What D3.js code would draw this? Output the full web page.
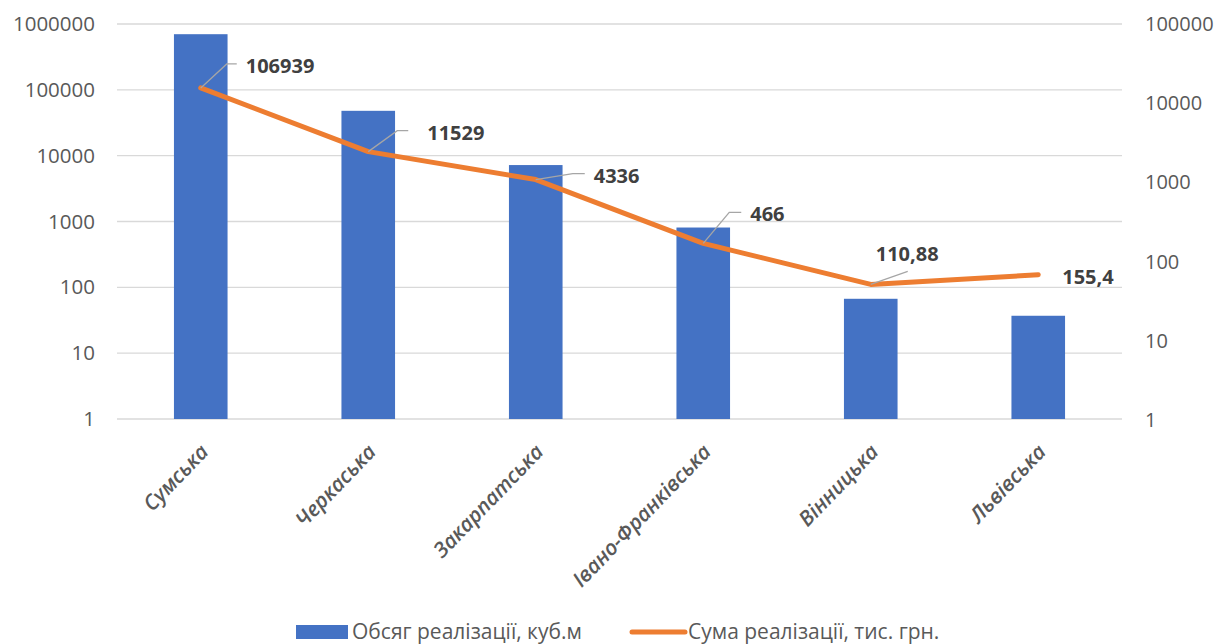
<!DOCTYPE html>
<html>
<head>
<meta charset="utf-8">
<script src="https://cdn.jsdelivr.net/npm/d3@7"></script>
<style>
  body { margin: 0; background: #fff; }
  text { font-family: "Open Sans", sans-serif; }
</style>
</head>
<body>
<div id="canvas"></div>
<script>
// data
const regions = ["Сумська", "Черкаська", "Закарпатська", "Івано-Франківська", "Вінницька", "Львівська"];
const volume = [700000, 48000, 7200, 810, 67, 37];          // Обсяг реалізації, куб.м
const amount = [106939, 11529, 4336, 466, 110.88, 155.4];   // Сума реалізації, тис. грн.
const amountLabels = ["106939", "11529", "4336", "466", "110,88", "155,4"];
const leftTicks = [1, 10, 100, 1000, 10000, 100000, 1000000];
const rightTicks = [1, 10, 100, 1000, 10000, 100000];
const seriesNames = ["Обсяг реалізації, куб.м", "Сума реалізації, тис. грн."];

// label placement (leader elbow dx/dy from point, text dx/dy)
const labelLayout = [
  { lx: 26, ly: -24, hx: 36, tx: 45, ty: -22 },
  { lx: 29, ly: -21, hx: 40, tx: 59, ty: -19 },
  { lx: 37, ly: -6, hx: 49, tx: 58, ty: -4 },
  { lx: 26, ly: -31, hx: 38, tx: 47, ty: -29 },
  { lx: 37, ly: -13, hx: 37, tx: 5, ty: -30 },
  { lx: 0, ly: 0, hx: 0, tx: 24, ty: 2 }
];

const width = 1219;
const height = 644;
const margin = { top: 24, left: 117, bottom: 225, right: 97 };
const iwidth = width - margin.left - margin.right;
const iheight = height - margin.top - margin.bottom;

const svg = d3.select("#canvas").append("svg")
  .attr("width", width)
  .attr("height", height);

const g = svg.append("g")
  .attr("transform", `translate(${margin.left},${margin.top})`);

const x = d3.scaleBand()
  .domain(regions)
  .range([0, iwidth])
  .padding(0);

const y = d3.scaleLog()
  .domain([1, 1000000])
  .range([iheight, 0]);

const y2 = d3.scaleLog()
  .domain([1, 100000])
  .range([iheight + 1, 0]);

// gridlines
g.append("g")
  .selectAll("line")
  .data(leftTicks)
  .enter()
  .append("line")
  .attr("x1", 0)
  .attr("x2", iwidth)
  .attr("y1", d => y(d))
  .attr("y2", d => y(d))
  .style("stroke", "#d9d9d9")
  .style("stroke-width", 1.3);

// left axis
const yAxis = g.append("g")
  .call(d3.axisLeft(y).tickValues(leftTicks).tickFormat(d3.format("d")).tickSize(0).tickPadding(22));
yAxis.select(".domain").remove();
yAxis.selectAll("text")
  .style("font-size", "20.5px")
  .style("fill", "#595959");

// right axis
const y2Axis = g.append("g")
  .attr("transform", `translate(${iwidth},0)`)
  .call(d3.axisRight(y2).tickValues(rightTicks).tickFormat(d3.format("d")).tickSize(0).tickPadding(23));
y2Axis.select(".domain").remove();
y2Axis.selectAll("text")
  .style("font-size", "20px")
  .style("fill", "#595959");

// bars
const barW = x.bandwidth() * 0.32;
g.selectAll("rect.bar")
  .data(regions)
  .enter()
  .append("rect")
  .attr("class", "bar")
  .style("fill", "#4472c4")
  .attr("x", d => x(d) + x.bandwidth() / 2 - barW / 2)
  .attr("y", (d, i) => y(volume[i]))
  .attr("width", barW)
  .attr("height", (d, i) => iheight - y(volume[i]));

// category labels
g.append("g")
  .selectAll("text")
  .data(regions)
  .enter()
  .append("text")
  .attr("transform", d => `translate(${x(d) + x.bandwidth() / 2 + 9},${iheight + 34}) rotate(-46)`)
  .attr("text-anchor", "end")
  .style("font-size", "21px")
  .style("font-style", "italic")
  .style("font-weight", 600)
  .style("fill", "#595959")
  .text(d => d);

// line
const pts = regions.map((d, i) => [x(d) + x.bandwidth() / 2, y(amount[i])]);
g.append("path")
  .datum(pts)
  .attr("d", d3.line())
  .style("fill", "none")
  .style("stroke", "#ed7d31")
  .style("stroke-width", 5)
  .style("stroke-linecap", "round")
  .style("stroke-linejoin", "round");

// leader lines
g.append("g")
  .selectAll("polyline")
  .data(pts.filter((d, i) => labelLayout[i].lx !== 0))
  .enter()
  .append("polyline")
  .attr("points", (d, i) => {
    const l = labelLayout[i];
    return `${d[0]},${d[1]} ${d[0] + l.lx},${d[1] + l.ly} ${d[0] + l.hx},${d[1] + l.ly}`;
  })
  .style("fill", "none")
  .style("stroke", "#a6a6a6")
  .style("stroke-width", 1.3);

// data labels
g.append("g")
  .selectAll("text")
  .data(pts)
  .enter()
  .append("text")
  .attr("x", (d, i) => d[0] + labelLayout[i].tx)
  .attr("y", (d, i) => d[1] + labelLayout[i].ty)
  .attr("dy", "0.35em")
  .style("font-size", "20px")
  .style("font-weight", 700)
  .style("fill", "#404040")
  .text((d, i) => amountLabels[i]);

// legend
const legend = svg.append("g").attr("transform", "translate(296,632)");
legend.append("rect")
  .attr("x", 0).attr("y", -7)
  .attr("width", 52).attr("height", 14)
  .style("fill", "#4472c4");
legend.append("text")
  .attr("x", 56).attr("y", 0).attr("dy", "0.35em")
  .style("font-size", "21px").style("fill", "#595959")
  .text(seriesNames[0]);
legend.append("line")
  .attr("x1", 336).attr("x2", 389).attr("y1", 0).attr("y2", 0)
  .style("stroke", "#ed7d31").style("stroke-width", 5).style("stroke-linecap", "round");
legend.append("text")
  .attr("x", 392).attr("y", 0).attr("dy", "0.35em")
  .style("font-size", "21px").style("fill", "#595959")
  .text(seriesNames[1]);
</script>
</body>
</html>
